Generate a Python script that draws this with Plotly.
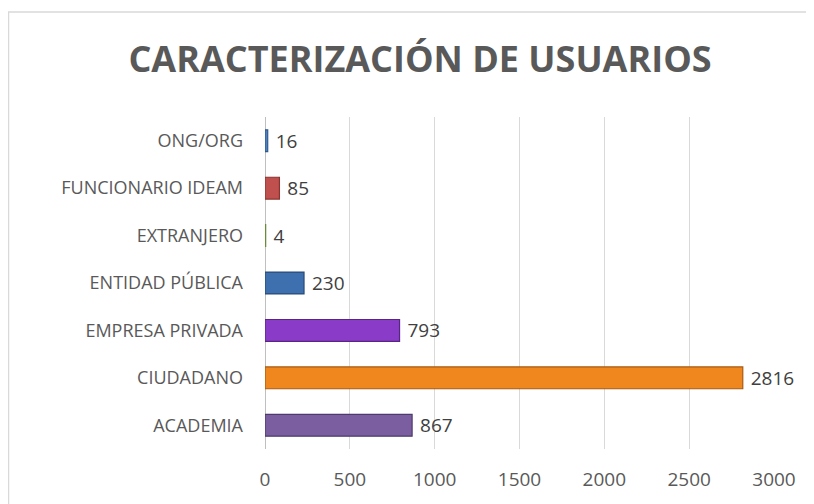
import plotly.graph_objects as go

categories = ["ACADEMIA", "CIUDADANO", "EMPRESA PRIVADA", "ENTIDAD PÚBLICA",
              "EXTRANJERO", "FUNCIONARIO IDEAM", "ONG/ORG"]
values = [867, 2816, 793, 230, 4, 85, 16]
colors = ["#7B5EA0", "#F0861E", "#8A3CC8", "#3E6FAE", "#9BBB59", "#C0504D", "#4F81BD"]
lines = ["#4E3A6B", "#A85A10", "#5A2485", "#294B78", "#6B8A3A", "#8A3431", "#2E5A8E"]
x_ticks = [0, 500, 1000, 1500, 2000, 2500, 3000]

FONT = "Open Sans, sans-serif"
OFF = 8  # page body margin
W, H = 814 - OFF, 504 - OFF
L, R, T, B = 265 - OFF, 40, 117 - OFF, 52
pw = W - L - R
ph = H - T - B

fig = go.Figure()
fig.add_trace(go.Bar(
    y=categories, x=values, orientation="h",
    marker=dict(color=colors, line=dict(color=lines, width=1.2)),
    width=0.46,
    text=[" " + str(v) for v in values], textposition="outside",
    constraintext="none",
    textfont=dict(family=FONT, size=19, color="#404040"),
    cliponaxis=False,
))

fig.update_layout(
    width=W, height=H,
    margin=dict(l=L, r=R, t=T, b=B),
    paper_bgcolor="white", plot_bgcolor="white",
    showlegend=False,
    title=dict(text="<b>CARACTERIZACIÓN DE USUARIOS</b>", x=(420 - OFF) / W, xanchor="center",
               y=1 - (59 - OFF) / H, yanchor="middle",
               font=dict(family=FONT, size=36, color="#595959")),
    xaxis=dict(range=[0, 3000], tickvals=x_ticks, showgrid=True, gridcolor="#D9D9D9",
               gridwidth=1, zeroline=True, zerolinecolor="#BFBFBF", zerolinewidth=1,
               showline=False, ticks="", ticklabelstandoff=17,
               tickfont=dict(family=FONT, size=19, color="#595959")),
    yaxis=dict(showgrid=False, showline=False, ticks="", ticklabelstandoff=21,
               tickfont=dict(family=FONT, size=18, color="#595959")),
    shapes=[dict(type="rect", xref="paper", yref="paper",
                 x0=(0.5 - L) / pw, x1=(W + 10 - L) / pw,
                 y0=-(H + 10 - T - ph) / ph, y1=(T + ph - (11 - OFF)) / ph,
                 line=dict(color="#D9D9D9", width=1.5), fillcolor="rgba(0,0,0,0)",
                 layer="below")],
)

fig.write_html("out.html")
